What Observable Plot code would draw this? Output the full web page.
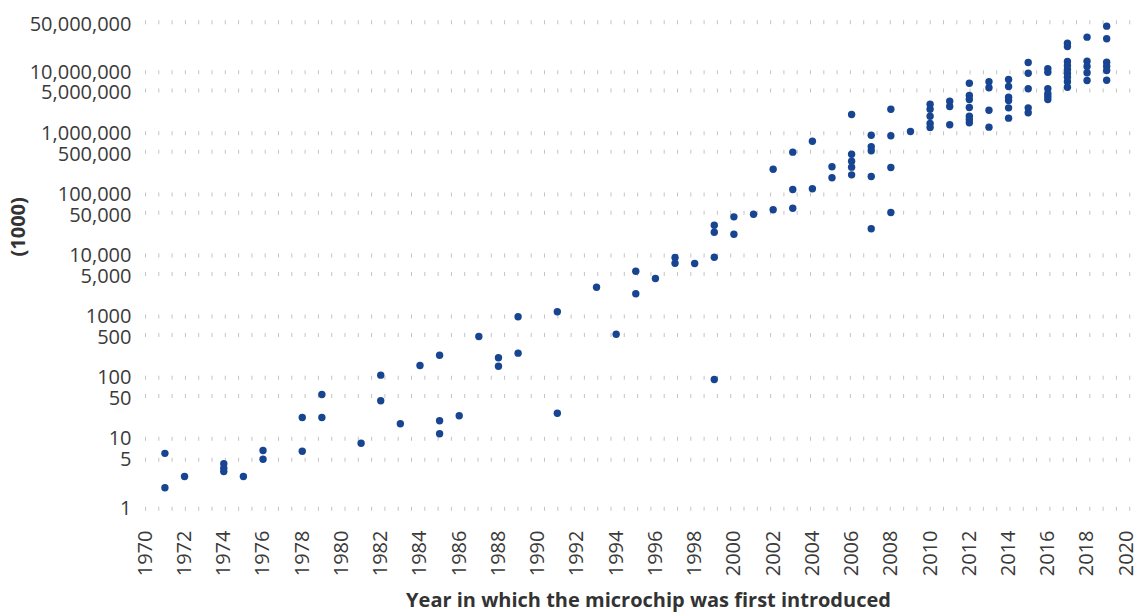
<!DOCTYPE html>
<html>
<head>
<meta charset="utf-8">
<script src="https://cdn.jsdelivr.net/npm/d3@7"></script>
<script src="https://cdn.jsdelivr.net/npm/@observablehq/plot@0.6"></script>
<style>
  html, body { margin: 0; padding: 0; background: #fff; }
  #chart { width: 1138px; height: 612px; }
</style>
</head>
<body>
<div id="chart"></div>
<script>
// Year each microchip was introduced
const years = [
  1971, 1971, 1972, 1974, 1974, 1974, 1975, 1976, 1976, 1978, 1978, 1979, 1979,
  1981, 1982, 1982, 1983, 1984, 1985, 1985, 1985, 1986, 1987, 1988, 1988,
  1989, 1989, 1991, 1991, 1993, 1994, 1995, 1995, 1996, 1997, 1997, 1998,
  1999, 1999, 1999, 1999, 2000, 2000, 2001, 2002, 2002, 2003, 2003, 2003,
  2004, 2004, 2005, 2005, 2006, 2006, 2006, 2006, 2006,
  2007, 2007, 2007, 2007, 2007, 2008, 2008, 2008, 2008, 2009,
  2010, 2010, 2010, 2010, 2010, 2011, 2011, 2011,
  2012, 2012, 2012, 2012, 2012, 2012, 2012, 2013, 2013, 2013, 2013,
  2014, 2014, 2014, 2014, 2014, 2014, 2015, 2015, 2015, 2015, 2015,
  2016, 2016, 2016, 2016, 2016, 2016,
  2017, 2017, 2017, 2017, 2017, 2017, 2017, 2017, 2017,
  2018, 2018, 2018, 2018, 2018,
  2019, 2019, 2019, 2019, 2019, 2019
];
// Transistor count (in thousands)
const transistors = [
  6.2, 2.0, 2.9, 4.4, 3.8, 3.4, 2.9, 6.8, 5.1, 22.3, 6.65, 22.3, 53,
  8.65, 110, 42, 17.6, 158, 233, 19.7, 12.1, 23.8, 472, 212, 154,
  252, 993, 1200, 26.2, 3030, 515, 5530, 2360, 4210, 9270, 7480, 7400,
  31300, 24000, 9380, 93.5, 42900, 22300, 47400, 56000, 258000, 59400, 491000, 120000,
  743000, 124000, 283000, 187000, 2030000, 455000, 349000, 279000, 209000,
  931000, 601000, 517000, 196000, 27400, 2480000, 910000, 275000, 50600, 1070000,
  3000000, 2480000, 1900000, 1450000, 1250000, 3350000, 2750000, 1380000,
  6610000, 4160000, 3570000, 2640000, 1900000, 1680000, 1490000, 6970000, 5560000, 2390000, 1260000,
  7600000, 5830000, 3900000, 3440000, 2610000, 1770000, 13660000, 9630000, 5350000, 2610000, 2170000,
  11150000, 10000000, 5350000, 4430000, 4000000, 3570000,
  25400000, 22900000, 14100000, 12400000, 10900000, 9630000, 8280000, 7000000, 5680000,
  30900000, 14200000, 12000000, 9780000, 7310000,
  44000000, 29300000, 13800000, 12100000, 10560000, 7400000
];
const xTicks = d3.range(1970, 2021, 2);
const yTicks = [1, 5, 10, 50, 100, 500, 1000, 5000, 10000, 50000, 100000, 500000, 1000000, 5000000, 10000000, 50000000];
const yTickLabels = ["1", "5", "10", "50", "100", "500", "1000", "5,000", "10,000", "50,000", "100,000", "500,000", "1,000,000", "5,000,000", "10,000,000", "50,000,000"];
const yTitle = "(1000)";
const xTitle = "Year in which the microchip was first introduced";

const data = years.map((year, i) => ({year, value: transistors[i]}));
const yLabelMap = new Map(yTicks.map((t, i) => [t, yTickLabels[i]]));
const isPow10 = d => Math.abs(Math.log10(d) - Math.round(Math.log10(d))) < 1e-9;
const yTicksTen = yTicks.filter(d => isPow10(d));
const yTicksFive = yTicks.filter(d => !isPow10(d) && d !== 5);
const yTicksOne = yTicks.filter(d => d === 5);

const chart = Plot.plot({
  width: 1138,
  height: 612,
  marginLeft: 145,
  marginRight: 5,
  marginTop: 0,
  marginBottom: 100,
  style: {fontFamily: "'Open Sans', sans-serif", fontSize: "20px", color: "#3a3a3a", background: "#fff"},
  x: {
    domain: [1970, 2020],
    range: [144.8, 1125.8],
    label: null
  },
  y: {
    type: "log",
    domain: [1, 10, 1e7, 5e7],
    range: [508.3, 438.3, 71.7, 21.7],
    label: null
  },
  marks: [
    Plot.ruleY(yTicks, {y: d => d, stroke: "#c4c4c4", strokeWidth: 4, strokeDasharray: "1,12.3"}),
    Plot.axisY(yTicksTen, {text: d => yLabelMap.get(d), tickSize: 0, tickPadding: 14, label: null, fontSize: 20}),
    Plot.axisY(yTicksOne, {text: d => yLabelMap.get(d), tickSize: 0, tickPadding: 14, label: null, fontSize: 20}),
    Plot.axisY(yTicksFive, {text: d => yLabelMap.get(d), tickSize: 0, tickPadding: 14, dy: 2.5, label: null, fontSize: 20}),
    Plot.axisX(xTicks, {text: d => String(d), tickRotate: -90, tickSize: 0, tickPadding: 18, label: null, fontSize: 20}),
    Plot.dot(data, {x: "year", y: "value", r: 3.7, fill: "#174591"}),
    Plot.text([yTitle], {frameAnchor: "left", dx: -127, rotate: -90, fontWeight: "bold", fontSize: 20, fill: "#333"}),
    Plot.text([xTitle], {frameAnchor: "bottom", dx: 9, dy: 94, fontWeight: "bold", fontSize: 20, fill: "#333"})
  ]
});
document.getElementById("chart").appendChild(chart);
</script>
</body>
</html>
